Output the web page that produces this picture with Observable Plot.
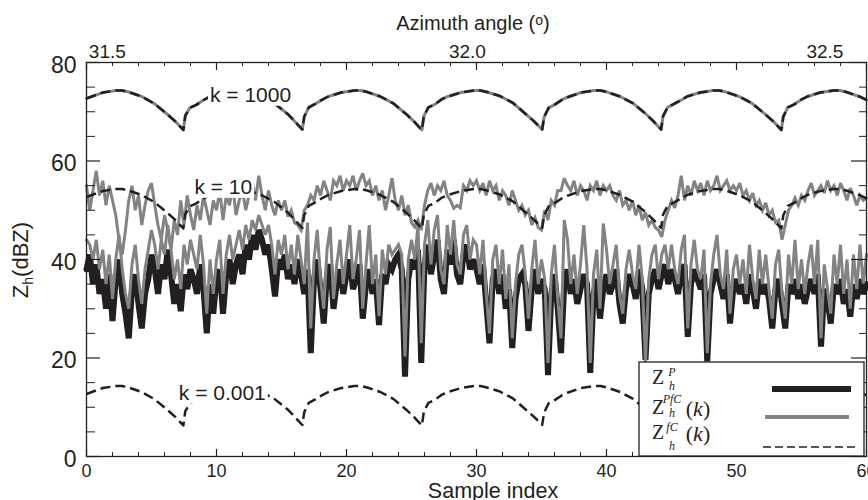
<!DOCTYPE html>
<html>
<head>
<meta charset="utf-8">
<script src="https://cdn.jsdelivr.net/npm/d3@7"></script>
<script src="https://cdn.jsdelivr.net/npm/@observablehq/plot@0.6"></script>
<style>
  body { margin: 0; background: #fff; }
  #chart svg { display: block; }
</style>
</head>
<body>
<div id="chart"></div>
<script>
// ---------------- data ----------------
const sampleStep = 0.25; // sample-index spacing of the noisy series

// Z_h^P (thick black)
const zhP = [
  38, 41, 35, 39, 33, 36, 30, 37, 27.5, 36, 40, 33, 29, 24, 34, 37, 31, 26, 33, 36,
  41, 38, 33, 39, 36, 42, 37, 31, 35, 29.5, 37, 34, 38, 36, 33, 39, 34, 25, 35, 29,
  36, 38, 29, 37, 40, 35, 39, 41, 37, 43, 40, 45, 42, 46, 44, 41, 43, 38, 32.5, 40,
  38, 41, 36, 39, 35, 40, 37, 33, 38, 21, 36, 40, 34, 27, 37, 39, 30, 35, 38, 33,
  37, 40, 34, 36, 39, 28, 35, 38, 33, 36, 26.7, 37, 35, 39, 38, 40, 41, 38, 16.2, 36,
  40, 38, 42, 19, 39, 43, 37, 41, 44, 36, 33, 42, 39, 44, 37, 35, 41, 43, 38, 40,
  38, 35, 39, 31, 23, 36, 38, 33, 37, 30, 34, 22, 32, 36, 37, 35, 25.5, 34, 38, 33,
  36, 34, 16.5, 33, 37, 30, 21, 35, 38, 33, 36, 31, 34, 37, 35, 17, 33, 36, 28, 34,
  37, 33, 35, 38, 31, 27, 34, 37, 35, 32, 38, 34, 19.6, 33, 36, 38, 34, 37, 39, 35,
  38, 36, 33, 37, 39, 24.3, 35, 38, 36, 34, 37, 19.3, 33, 36, 38, 35, 32, 37, 27, 34,
  36, 33, 35, 31, 37, 34, 30, 36, 33, 35, 32, 26, 34, 36, 31, 26, 35, 33, 36, 32,
  35, 31, 34, 36, 33, 37, 22.3, 34, 32, 27, 35, 33, 36, 31, 34, 28.4, 35, 32, 36, 33, 35
];

// Z_h^PfC(k = 0.001) (grey, hugging the black line)
const zhPfC_k0001 = [
  44, 43, 40, 44, 38, 42, 35, 41, 32, 40, 45, 38, 33, 30, 39, 43, 36, 31, 38, 42,
  46, 43, 38, 44, 41, 47, 42, 36, 40, 34, 43, 39, 44, 41, 38, 45, 39, 29, 40, 33,
  40, 44, 33, 41, 45, 40, 43, 46, 42, 47, 44, 48, 46, 49, 47, 45, 47, 43, 37, 44,
  41, 45, 38, 43, 37, 45, 40, 35, 47.5, 26, 40, 46, 36, 30, 42, 46.6, 32, 39, 44, 35,
  41, 47, 36, 40, 46, 30, 39, 47, 35, 41, 28.5, 42, 37, 43, 41, 42, 43, 41, 20.3, 40,
  44, 40, 47, 23, 43, 48, 39, 46, 49, 38, 35, 47, 41, 48, 39, 37, 45, 47, 40, 44,
  43, 37, 44, 33, 25, 40, 43, 35, 42, 32, 39, 24, 35, 41, 43, 37, 28, 38, 44, 35,
  40, 36, 19, 37, 43, 32, 24, 48, 44, 35, 41, 33, 39, 47, 38, 19, 37, 42, 30, 47.3,
  42, 35, 39, 43, 33, 29, 38, 42, 37, 34, 43, 36, 19, 36, 41, 43, 36, 41, 43, 38,
  43, 38, 35, 42, 45, 26, 39, 44, 38, 36, 42, 21, 35, 41, 45, 37, 34, 42, 29, 38,
  41, 35, 40, 33, 43, 36, 32, 42, 35, 41, 34, 28, 39, 42, 33, 28, 41, 35, 44, 34,
  40, 33, 39, 43, 35, 44, 24, 39, 34, 29, 41, 35, 43, 33, 40, 30, 41, 34, 43, 35, 41
];

// Z_h^PfC(k = 10) (grey, around the k = 10 clutter curve)
const zhPfC_k10 = [
  55, 50, 54, 58, 53, 56, 51, 55, 52, 49, 44, 41, 46, 52, 55, 50, 53, 47, 51, 54,
  55.5, 51, 47, 44, 49, 46, 42, 48, 45, 52, 47, 53, 49, 46, 51, 48, 53, 50, 47, 52,
  50, 54, 48, 53, 51, 55, 49, 52, 54, 50, 53, 56, 52, 57, 53, 50, 54, 51, 49, 52,
  50, 52, 48.7, 50, 47.5, 47, 46, 50, 51, 53, 52, 55, 53, 56, 54, 52, 56, 55, 57, 54,
  56, 55, 57, 54, 56, 57.5, 55, 56, 53, 55, 52, 54, 50, 53, 56.5, 52, 50, 53, 49, 51,
  47.5, 46.6, 48, 46, 51, 54, 55.5, 53, 55, 54, 56, 53, 52, 50.4, 51, 50.5, 55, 54, 56, 55,
  56, 54, 55.5, 53, 56, 54, 55, 52, 54, 53, 51, 54, 52, 50, 51, 49, 50, 47, 48.5, 46.5,
  46, 50, 48, 52, 51, 54, 54, 56.5, 55, 54, 56, 53, 55, 54, 52, 55, 54, 56, 53, 55,
  54, 55, 53, 52, 54, 51, 52, 50, 52, 49, 51, 48, 49.5, 47, 48, 46.5, 46, 44.6, 48, 50,
  52, 50.5, 53, 57, 52, 55, 53, 56, 54, 55.5, 53, 56, 54, 55, 57, 54, 55, 56, 54, 55,
  54, 55.5, 53, 54, 52, 53.5, 51, 52, 50, 51.5, 49, 50, 47.5, 48, 44, 47, 50, 51, 52.5, 51,
  53, 52, 54, 55.5, 53, 54, 55, 53.5, 56, 54, 55, 53, 55.5, 54, 52, 54.5, 53, 51, 53, 52, 52.5
];

// clutter curve Z_h^fC for k = 1 (dB), read at these sample indices
const clutterX = [
  0, 1.25, 2.25, 2.75, 3.25, 4.25, 5.25, 6.25, 6.85, 7.45,
  7.6, 7.95, 8.45, 8.95, 9.45, 10.45, 11.45, 11.95, 12.45, 13.45, 14.45, 15.45, 16.0, 16.6,
  16.75, 17.1, 17.6, 18.1, 18.6, 19.6, 20.6, 21.1, 21.6, 22.6, 23.6, 24.6, 25.2, 25.8,
  25.95, 26.3, 26.8, 27.3, 27.8, 28.8, 29.8, 30.3, 30.8, 31.8, 32.8, 33.8, 34.45, 35.05,
  35.2, 35.55, 36.05, 36.55, 37.05, 38.05, 39.05, 39.55, 40.05, 41.05, 42.05, 43.05, 43.6, 44.2,
  44.35, 44.7, 45.2, 45.7, 46.2, 47.2, 48.2, 48.7, 49.2, 50.2, 51.2, 52.2, 52.85, 53.45,
  53.6, 53.95, 54.45, 54.95, 55.45, 56.45, 57.45, 57.95, 58.45, 59.45, 60
];
const clutterK1 = [
  42.7, 43.9, 44.3, 44.3, 44.0, 43.1, 41.6, 39.4, 38.0, 36.3,
  39.2, 40.8, 41.4, 42.3, 43.0, 43.9, 44.3, 44.3, 44.0, 43.1, 41.7, 39.6, 38.1, 36.4,
  39.0, 40.9, 41.6, 42.4, 43.1, 43.9, 44.3, 44.3, 44.0, 43.1, 41.7, 39.5, 38.0, 36.3,
  39.1, 40.9, 41.5, 42.5, 43.1, 43.9, 44.3, 44.3, 44.0, 43.2, 41.8, 39.5, 38.0, 36.4,
  38.9, 40.8, 41.5, 42.4, 43.0, 43.9, 44.3, 44.3, 44.0, 43.1, 41.7, 39.5, 38.1, 36.4,
  39.1, 40.9, 41.6, 42.3, 43.1, 43.9, 44.3, 44.3, 44.0, 43.1, 41.7, 39.5, 38.0, 36.3,
  39.0, 40.9, 41.5, 42.4, 43.1, 43.9, 44.3, 44.3, 44.0, 43.1, 42.4
];
const kValues = [1000, 10, 0.001];

// curve annotations
const kLabels = ["k = 1000", "k = 10", "k = 0.001"];
const kLabelX = [9.5, 8.3, 7.1];
const kLabelY = [73.4, 54.7, 12.9];

// axes
const xMajorTicks = [0, 10, 20, 30, 40, 50, 60];
const xMinorTicks = [2, 4, 6, 8, 12, 14, 16, 18, 22, 24, 26, 28, 32, 34, 36, 38, 42, 44, 46, 48, 52, 54, 56, 58];
const yMajorTicks = [0, 20, 40, 60, 80];
const yMinorTicks = [5, 10, 15, 25, 30, 35, 45, 50, 55, 65, 70, 75];
const azimuthTickPos = [1.6, 29.3, 56.8];
const azimuthTickLabels = ["31.5", "32.0", "32.5"];

// ---------------- build tables ----------------
const ink = "#231f20";
const grey = "#838383";
const sans = "'Liberation Sans', Arial, Helvetica, sans-serif";
const serif = "'Liberation Serif', 'Times New Roman', serif";

const rowsOf = arr => arr.map((v, i) => ({x: i * sampleStep, y: v}));
const pRows = rowsOf(zhP);
const lowRows = rowsOf(zhPfC_k0001);
const midRows = rowsOf(zhPfC_k10);
const clutterRows = kValues.flatMap(k =>
  clutterX.map((x, j) => ({x, y: clutterK1[j] + 10 * Math.log10(k), k: String(k)})));
const highRows = clutterRows.filter(d => d.k === "1000"); // grey k=1000 line coincides with its clutter curve
const labelRows = kLabels.map((t, i) => ({t, x: kLabelX[i], y: kLabelY[i]}));
const azMap = new Map(azimuthTickPos.map((p, i) => [p, azimuthTickLabels[i]]));

const W = 868, H = 500, mL = 86, mR = 2, mT = 62, mB = 44;
const fw = W - mL - mR, fh = H - mT - mB;

const chart = Plot.plot({
  width: W, height: H,
  marginLeft: mL, marginRight: mR, marginTop: mT, marginBottom: mB,
  x: {domain: [0, 60]},
  y: {domain: [0, 80]},
  style: {fontFamily: sans, color: ink, background: "white"},
  marks: [
    Plot.line(pRows, {x: "x", y: "y", stroke: ink, strokeWidth: 6, strokeLinejoin: "miter", strokeMiterlimit: 3}),
    Plot.line(lowRows, {x: "x", y: "y", stroke: grey, strokeWidth: 3, strokeLinejoin: "miter", strokeMiterlimit: 3}),
    Plot.line(midRows, {x: "x", y: "y", stroke: grey, strokeWidth: 3, strokeLinejoin: "miter", strokeMiterlimit: 3}),
    Plot.line(highRows, {x: "x", y: "y", stroke: grey, strokeWidth: 3}),
    Plot.line(clutterRows, {x: "x", y: "y", z: "k", stroke: ink, strokeWidth: 2.5, strokeDasharray: "10,5", strokeLinecap: "butt"}),
    Plot.text(labelRows, {x: "x", y: "y", text: "t", textAnchor: "start", fontSize: 21, fill: ink}),
    Plot.frame({stroke: ink, strokeWidth: 1.3}),
    Plot.tickY(yMajorTicks, {stroke: ink, strokeWidth: 1.2, insetRight: fw - 14}),
    Plot.tickY(yMinorTicks, {stroke: ink, strokeWidth: 1, insetRight: fw - 9}),
    Plot.tickY(yMajorTicks, {stroke: ink, strokeWidth: 1.2, insetLeft: fw - 15}),
    Plot.tickY(yMinorTicks, {stroke: ink, strokeWidth: 1, insetLeft: fw - 7}),
    Plot.tickX(xMajorTicks, {stroke: ink, strokeWidth: 1.2, insetTop: fh - 7}),
    Plot.tickX(xMinorTicks, {stroke: ink, strokeWidth: 1, insetTop: fh - 4}),
    Plot.tickX(xMajorTicks, {stroke: ink, strokeWidth: 1.2, insetBottom: fh - 8}),
    Plot.tickX(xMinorTicks, {stroke: ink, strokeWidth: 1, insetBottom: fh - 4}),
    Plot.axisY(yMajorTicks, {anchor: "left", tickSize: 0, tickPadding: 10, fontSize: 23, dy: 3, label: null}),
    Plot.axisX(xMajorTicks, {anchor: "bottom", tickSize: 0, tickPadding: 8, fontSize: 18, label: null}),
    Plot.axisX(azimuthTickPos, {anchor: "top", tickSize: 0, tickPadding: 5, fontSize: 19, label: null,
      tickFormat: d => azMap.get(d)})
  ]
});

document.getElementById("chart").appendChild(chart);
const svgSel = d3.select(chart);

// white boxes behind the k annotations
svgSel.selectAll('g[aria-label="text"] text').each(function () {
  const b = this.getBBox();
  const r = document.createElementNS("http://www.w3.org/2000/svg", "rect");
  r.setAttribute("x", b.x - 2);
  r.setAttribute("y", b.y);
  r.setAttribute("width", b.width + 4);
  r.setAttribute("height", b.height);
  r.setAttribute("fill", "white");
  const t = this.getAttribute("transform");
  if (t) r.setAttribute("transform", t);
  this.parentNode.insertBefore(r, this);
});

// titles
const azTitle = svgSel.append("text").attr("x", 473).attr("y", 30).attr("text-anchor", "middle")
  .attr("font-family", sans).attr("font-size", 20).attr("fill", ink);
azTitle.append("tspan").text("Azimuth angle (");
azTitle.append("tspan").attr("font-size", 14).attr("dy", -5).text("o");
azTitle.append("tspan").attr("dy", 5).text(")");

svgSel.append("text").attr("x", 493).attr("y", 498).attr("text-anchor", "middle")
  .attr("font-family", sans).attr("font-size", 21.5).attr("fill", ink).text("Sample index");

const yTitle = svgSel.append("text").attr("transform", "translate(27.5,260) rotate(-90)")
  .attr("text-anchor", "middle").attr("font-family", sans).attr("font-size", 22).attr("fill", ink);
yTitle.append("tspan").text("Z");
yTitle.append("tspan").attr("font-size", 14).attr("dy", 5).text("h");
yTitle.append("tspan").attr("dy", -5).text("(dBZ)");

// legend
const lg = svgSel.append("g");
lg.append("rect").attr("x", 639).attr("y", 362).attr("width", 225).attr("height", 94)
  .attr("fill", "white").attr("stroke", ink).attr("stroke-width", 1.3);
lg.append("line").attr("x1", 772).attr("x2", 851).attr("y1", 389).attr("y2", 389)
  .attr("stroke", ink).attr("stroke-width", 6);
lg.append("line").attr("x1", 765).attr("x2", 849).attr("y1", 417).attr("y2", 417)
  .attr("stroke", grey).attr("stroke-width", 4);
lg.append("line").attr("x1", 763).attr("x2", 855).attr("y1", 447).attr("y2", 447)
  .attr("stroke", ink).attr("stroke-width", 1.5).attr("stroke-dasharray", "8,4");

const legendRows = [
  {sup: "P", zBase: 384, supBase: 376, subBase: 390, kBase: null},
  {sup: "PfC", zBase: 414, supBase: 403, subBase: 417, kBase: 416},
  {sup: "fC", zBase: 439, supBase: 431, subBase: 450, kBase: 441}
];
legendRows.forEach(r => {
  const t = lg.append("text").attr("font-family", serif).attr("fill", ink);
  t.append("tspan").attr("x", 658).attr("y", r.zBase).attr("font-size", 20).text("Z");
  t.append("tspan").attr("x", 672).attr("y", r.supBase).attr("font-size", 12)
    .attr("font-style", "italic").text(r.sup);
  t.append("tspan").attr("x", 672).attr("y", r.subBase).attr("font-size", 12)
    .attr("font-style", "italic").text("h");
  if (r.kBase !== null) {
    t.append("tspan").attr("x", 698).attr("y", r.kBase).attr("font-size", 22).text("(");
    t.append("tspan").attr("font-size", 22).attr("font-style", "italic").text("k");
    t.append("tspan").attr("font-size", 22).text(")");
  }
});
</script>
</body>
</html>
